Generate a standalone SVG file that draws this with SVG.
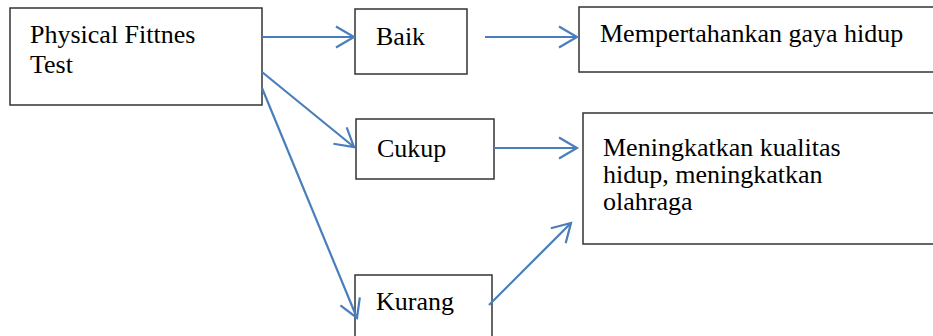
<svg xmlns="http://www.w3.org/2000/svg" width="933" height="336" viewBox="0 0 933 336">
<defs>
<marker id="arr" markerUnits="userSpaceOnUse" markerWidth="30" markerHeight="30" viewBox="-20 -15 30 30" refX="0" refY="0" orient="auto" overflow="visible">
<path d="M-18,-10.5 L0,0 L-18,10.5" fill="none" stroke="#4a7ebb" stroke-width="2.2" stroke-linejoin="miter"/>
</marker>
</defs>
<style>
.box{fill:#fff;stroke:#333;stroke-width:1.5}
.t{font-family:"Liberation Serif","Times New Roman",serif;font-size:26px;fill:#000}
.c{stroke:#4a7ebb;stroke-width:2.2;fill:none;marker-end:url(#arr)}
</style>
<rect width="933" height="336" fill="#fff"/>
<g id="physical">
<rect class="box" x="10" y="8" width="252" height="97"/>
<text class="t" x="30" y="43">Physical Fittnes</text>
<text class="t" x="30" y="73">Test</text>
</g>
<g id="baik">
<rect class="box" x="355" y="9" width="112" height="65"/>
<text class="t" x="376" y="45">Baik</text>
</g>
<g id="cukup">
<rect class="box" x="356" y="119" width="138" height="60"/>
<text class="t" x="377" y="157">Cukup</text>
</g>
<g id="kurang">
<rect class="box" x="355" y="275" width="137" height="70"/>
<text class="t" x="376" y="310">Kurang</text>
</g>
<g id="mempertahankan">
<rect class="box" x="579" y="7" width="360" height="65"/>
<text class="t" x="600" y="42">Mempertahankan gaya hidup</text>
</g>
<g id="meningkatkan">
<rect class="box" x="583" y="113" width="360" height="131"/>
<text class="t" x="603" y="156">Meningkatkan kualitas</text>
<text class="t" x="603" y="183">hidup, meningkatkan</text>
<text class="t" x="603" y="210">olahraga</text>
</g>
<g id="connectors">
<line class="c" x1="262" y1="37" x2="354" y2="37"/>
<line class="c" x1="485" y1="37" x2="577" y2="37"/>
<line class="c" x1="262" y1="72" x2="354" y2="147"/>
<line class="c" x1="262" y1="88" x2="357" y2="318"/>
<line class="c" x1="494" y1="148" x2="577" y2="148"/>
<line class="c" x1="489" y1="305" x2="571" y2="223"/>
</g>
</svg>
